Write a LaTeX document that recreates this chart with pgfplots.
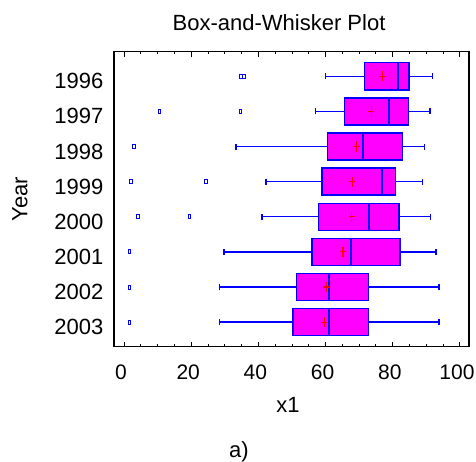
\documentclass[border=0pt]{standalone}
\usepackage{fontspec}
\setmainfont{Liberation Sans}
\usepackage{pgfplots}
\pgfplotsset{compat=1.18}
\usepgfplotslibrary{statistics}

\definecolor{boxfill}{RGB}{255,0,255}
\definecolor{boxline}{RGB}{0,0,255}
\definecolor{meanred}{RGB}{255,0,0}

\pgfplotsset{
  yearbox/.style={
    boxline, solid, line width=0.7pt,
    mark=square, mark size=1pt,
    mark options={xscale=0.6, line width=0.5pt},
  },
}

\begin{document}
\begin{tikzpicture}[font=\fontsize{11}{13}\selectfont]
\useasboundingbox (-57pt,-57.15pt) rectangle (181pt,173.35pt);
\begin{axis}[
    scale only axis,
    width=177.5pt, height=147.5pt,
    xmin=-3, xmax=102.7,
    ymin=0.3, ymax=8.7,
    y dir=reverse,
    xtick={0,20,40,60,80,100},
    minor x tick num=3,
    ytick={1,2,3,4,5,6,7,8},
    yticklabels={1996,1997,1998,1999,2000,2001,2002,2003},
    ytick style={draw=none},
    tick align=inside,
    major tick length=2.5pt,
    minor tick length=1.3pt,
    axis line style={line width=0.6pt},
    every tick/.style={black, line width=0.5pt},
    /pgf/number format/assume math mode=true,
    xticklabel style={yshift=-5.5pt, xshift=-1.5pt, font=\fontsize{10.5}{12}\selectfont},
    yticklabel style={xshift=-1.8pt, yshift=-2.5pt},
    title={Box-and-Whisker Plot},
    title style={at={(axis description cs:0.465,1)}, anchor=base, yshift=4.5pt},
    xlabel={x1},
    xlabel style={at={(axis description cs:0.49,0)}, anchor=base, yshift=-33pt},
    ylabel={Year},
    ylabel style={at={(axis description cs:-0.265,0.5)}, anchor=center},
    boxplot/draw direction=x,
    boxplot/box extend=0.77,
    boxplot/whisker extend=0.17,
    boxplot/every box/.style={draw=boxline, fill=boxfill, line width=0.7pt},
    boxplot/every median/.style={draw=boxline, line width=1pt},
    boxplot/every whisker/.style={draw=boxline, line width=0.7pt},
]

% 1996
\addplot[yearbox, boxplot prepared={draw position=1,
  lower whisker=60.0, lower quartile=71.5, median=81.5,
  upper quartile=84.8, upper whisker=91.9}]
  table[row sep=\\, y index=0] {d\\ 34.8\\ 35.7\\};
% 1997
\addplot[yearbox, boxplot prepared={draw position=2,
  lower whisker=57.0, lower quartile=65.6, median=78.9,
  upper quartile=84.6, upper whisker=91.1}]
  table[row sep=\\, y index=0] {d\\ 10.6\\ 34.7\\};
% 1998
\addplot[yearbox, boxplot prepared={draw position=3,
  lower whisker=33.3, lower quartile=60.6, median=71.2,
  upper quartile=82.9, upper whisker=89.5}]
  table[row sep=\\, y index=0] {d\\ 2.9\\};
% 1999
\addplot[yearbox, boxplot prepared={draw position=4,
  lower whisker=42.3, lower quartile=58.9, median=76.7,
  upper quartile=80.9, upper whisker=88.8}]
  table[row sep=\\, y index=0] {d\\ 2.1\\ 24.4\\};
% 2000
\addplot[yearbox, boxplot prepared={draw position=5,
  lower whisker=41.1, lower quartile=57.9, median=72.9,
  upper quartile=81.9, upper whisker=91.3}]
  table[row sep=\\, y index=0] {d\\ 4.2\\ 19.4\\};
% 2001
\addplot[yearbox, boxplot prepared={draw position=6,
  lower whisker=29.8, lower quartile=56.0, median=67.6,
  upper quartile=82.1, upper whisker=92.9}]
  table[row sep=\\, y index=0] {d\\ 1.7\\};
% 2002
\addplot[yearbox, boxplot prepared={draw position=7,
  lower whisker=28.4, lower quartile=51.3, median=60.9,
  upper quartile=72.7, upper whisker=93.8}]
  table[row sep=\\, y index=0] {d\\ 1.7\\};
% 2003
\addplot[yearbox, boxplot prepared={draw position=8,
  lower whisker=28.4, lower quartile=50.3, median=61.0,
  upper quartile=72.7, upper whisker=93.8}]
  table[row sep=\\, y index=0] {d\\ 1.7\\};

% means
\addplot[only marks, meanred, mark=+, mark size=1.6pt,
  mark options={yscale=1.6, line width=0.6pt}]
  coordinates {(76.9,1) (73.6,2) (69.3,3) (67.9,4)
               (67.8,5) (65.2,6) (60.2,7) (59.6,8)};

\end{axis}
\node[anchor=base] at (62.5pt,-55.5pt) {a)};
\end{tikzpicture}
\end{document}
